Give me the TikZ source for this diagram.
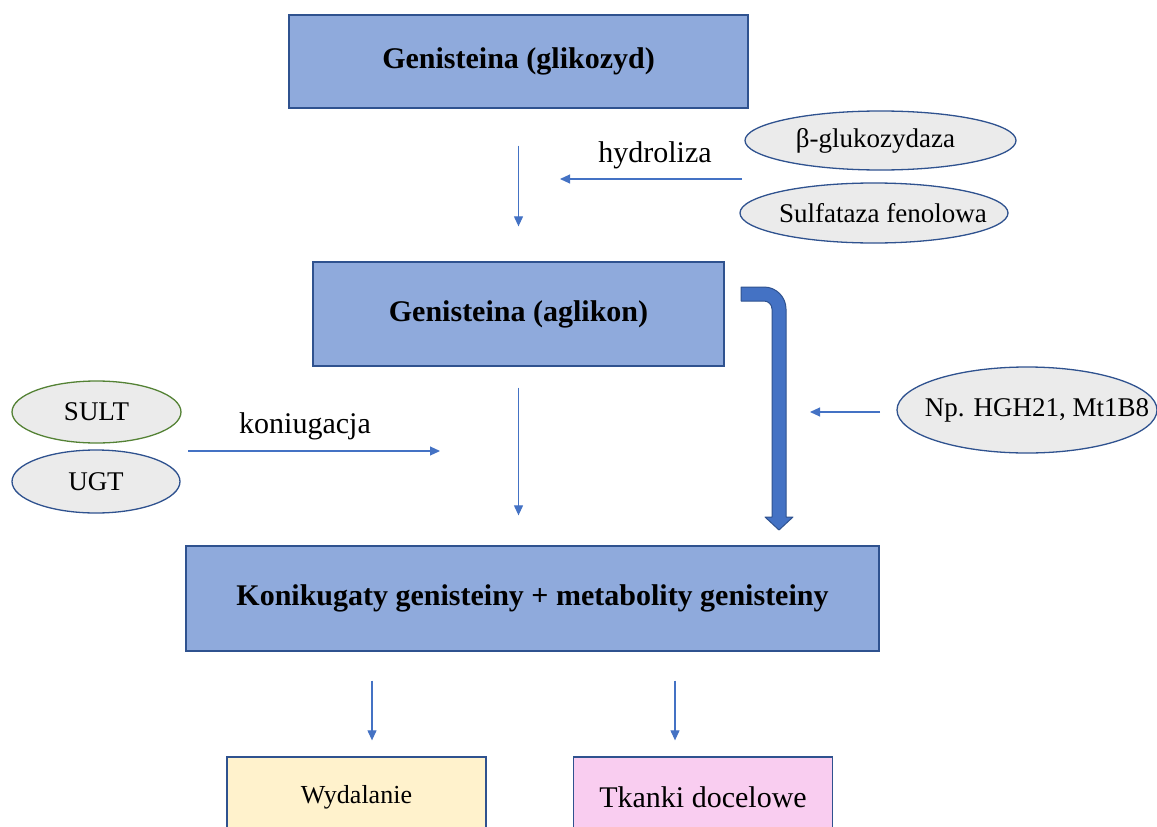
\documentclass[tikz,border=0pt]{standalone}
\usepackage{fontspec}
\setmainfont{Liberation Serif}[Ligatures=TeX]
\usetikzlibrary{arrows.meta,shapes.geometric}
\definecolor{boxfill}{HTML}{8FAADC}
\definecolor{boxline}{HTML}{2F528F}
\definecolor{arrowblue}{HTML}{4472C4}
\definecolor{ovalfill}{HTML}{EBEBEB}
\definecolor{sultline}{HTML}{548235}
\definecolor{excfill}{HTML}{FFF2CC}
\definecolor{tissfill}{HTML}{F9CDF0}
% oval label of zero width, so the oval keeps its given size;
% #1 moves the label sideways from the oval centre
\newcommand{\ovallabel}[2]{\makebox[0pt]{\hspace*{#1}#2}}
\begin{document}
\begin{tikzpicture}[x=1pt,y=-1pt,
  stage/.style={rectangle, draw=boxline, line width=1.3pt, fill=boxfill,
    font=\fontsize{30}{36}\selectfont\bfseries, inner sep=0pt},
  target/.style={rectangle, draw=boxline, line width=1.3pt, inner sep=0pt,
    minimum width=259pt, minimum height=80pt},
  enzyme/.style={ellipse, draw=boxline, line width=1.3pt, fill=ovalfill,
    font=\fontsize{27}{32}\selectfont, inner sep=0pt},
  flow/.style={draw=arrowblue, line width=1.1pt,
    -{Triangle[length=10pt,width=9pt]}},
  lbl/.style={font=\fontsize{30}{36}\selectfont, inner sep=0pt}]
\useasboundingbox (0,0) rectangle (1157,827);

% main stages
\node[stage, minimum width=459pt, minimum height=93pt] (glik) at (518.5,61.5) {Genisteina (glikozyd)};
\node[stage, minimum width=411pt, minimum height=104pt] (aglik) at (518.5,314) {Genisteina (aglikon)};
\node[stage, minimum width=693pt, minimum height=105pt] (conj) at (532.5,598.5) {Konikugaty genisteiny + metabolity genisteiny};

% destinations
\node[target, fill=excfill, font=\fontsize{26}{31}\selectfont] (excr) at (356.5,797) {Wydalanie};
\node[target, fill=tissfill, font=\fontsize{30}{36}\selectfont] (tiss) at (703,797) {Tkanki docelowe};

% enzymes
\node[enzyme, minimum width=271pt, minimum height=59pt] (bglu) at (880.5,140.5) {\ovallabel{-10pt}{β-glukozydaza}};
\node[enzyme, minimum width=268pt, minimum height=60pt] (sulf) at (874,213) {\ovallabel{18pt}{Sulfataza fenolowa}};
\node[enzyme, draw=sultline, minimum width=169pt, minimum height=62pt] (sult) at (96.5,412) {\ovallabel{0pt}{SULT}};
\node[enzyme, minimum width=168pt, minimum height=63pt] (ugt) at (96,481.5) {\ovallabel{0pt}{UGT}};
\node[enzyme, minimum width=260pt, minimum height=86pt] (np) at (1027,410) {\ovallabel{20pt}{Np. HGH21, Mt1B8}};

% process labels
\node[lbl] (hydr) at (655,155) {hydroliza};
\node[lbl] (koni) at (305,426) {koniugacja};

% free ends of the side arrows
\coordinate (hfrom) at (742,179);
\coordinate (hto) at (560,179);
\coordinate (kfrom) at (188,451);
\coordinate (kto) at (440,451);
\coordinate (nfrom) at (880,412);
\coordinate (nto) at (810,412);
% entry points above the two destinations
\path (excr.north) ++(15.5,0) coordinate (eIn);
\path (tiss.north) ++(-28,0) coordinate (tIn);

% vertical flow
\draw[flow, shorten <=37pt, shorten >=35pt] (glik.south) -- (aglik.north);
\draw[flow, shorten <=21pt, shorten >=30pt] (aglik.south) -- (aglik.south |- conj.north);
\draw[flow, shorten <=29pt, shorten >=16pt] (conj.south -| eIn) -- (eIn);
\draw[flow, shorten <=29pt, shorten >=16pt] (conj.south -| tIn) -- (tIn);

% side arrows
\draw[flow] (hfrom) -- (hto);
\draw[flow] (kfrom) -- (kto);
\draw[flow] (nfrom) -- (nto);

% bent block arrow from the aglycone to the conjugates
\filldraw[fill=arrowblue, draw=boxline, line width=1pt, line join=round]
  (741,287) -- (764,287) .. controls (776.1,287) and (786,296.9) .. (786,309)
  -- (786,517) -- (793,517) -- (779,530) -- (765,517) -- (772,517)
  -- (772,309) .. controls (772,304.6) and (768.4,301) .. (764,301)
  -- (741,301) -- cycle;
\end{tikzpicture}
\end{document}
